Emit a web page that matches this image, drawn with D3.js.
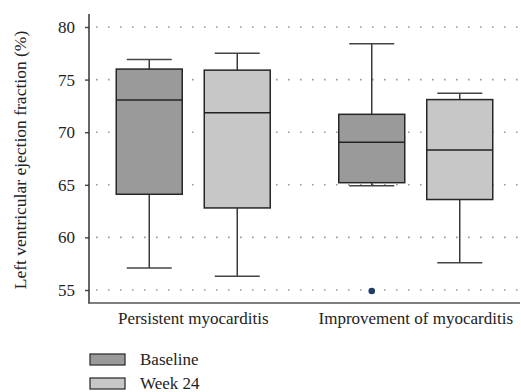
<!DOCTYPE html>
<html>
<head>
<meta charset="utf-8">
<script src="https://cdn.jsdelivr.net/npm/d3@7"></script>
<style>
  body { margin: 0; background: #fff; }
  svg text { font-family: "Liberation Serif", "DejaVu Serif", serif; }
</style>
</head>
<body>
<div id="chart"></div>
<script>
// data
const groups = ["Persistent myocarditis", "Improvement of myocarditis"];
const series = ["Baseline", "Week 24"];
const yTicks = [55, 60, 65, 70, 75, 80];

// [whisker low, q1, median, q3, whisker high] per group, one array per series
const baselineStats = [
    [57.1, 64.1, 73.05, 76.0, 76.9],
    [64.9, 65.2, 69.05, 71.7, 78.4]
];
const week24Stats = [
    [56.3, 62.8, 71.85, 75.9, 77.5],
    [57.6, 63.6, 68.3, 73.1, 73.7]
];
const outliers = [
    {group: 1, series: 0, value: 54.9}
];

const FILLS = ["#9a9a9a", "#c6c7c6"];
const W = 521, H = 392;

const svg = d3.select("#chart").append("svg")
    .attr("width", W)
    .attr("height", H);

const y = d3.scaleLinear().domain([55, 80]).range([290, 27]);

const x = d3.scaleBand().domain(groups).range([82, 527]).paddingOuter(0);
const xs = d3.scaleBand().domain(series).range([-88, 88]).paddingInner(0.5).paddingOuter(0.25);

const BOX_W = 66;
const CAP_W = 45;

// grid
svg.append("g")
    .selectAll("line")
    .data(yTicks)
    .enter().append("line")
    .attr("x1", 90).attr("x2", 520)
    .attr("y1", d => y(d)).attr("y2", d => y(d))
    .attr("stroke", "#9a9a9a")
    .attr("stroke-width", 1.6)
    .attr("stroke-dasharray", "1.6,10.4")
    .attr("stroke-dashoffset", -6);

// y axis
const yAxis = svg.append("g")
    .attr("transform", "translate(89,0)")
    .call(d3.axisLeft(y).tickValues(yTicks).tickSize(4).tickPadding(10))
    .attr("font-size", 17);
yAxis.select(".domain").remove();
yAxis.selectAll(".tick line").attr("stroke", "#444").attr("stroke-width", 1.4);
yAxis.selectAll(".tick text").attr("fill", "#222");

svg.append("line")
    .attr("x1", 89).attr("x2", 89)
    .attr("y1", 14).attr("y2", 303.5)
    .attr("stroke", "#333").attr("stroke-width", 1.5);

// x axis
svg.append("line")
    .attr("x1", 88.3).attr("x2", 520)
    .attr("y1", 303).attr("y2", 303)
    .attr("stroke", "#555").attr("stroke-width", 1.5);

const xAxis = svg.append("g")
    .attr("transform", "translate(0,303)")
    .call(d3.axisBottom(x).tickSize(0).tickPadding(9))
    .attr("font-size", 17);
xAxis.select(".domain").remove();
xAxis.selectAll(".tick text").attr("fill", "#222");

svg.append("text")
    .attr("transform", "translate(26,160) rotate(-90)")
    .attr("text-anchor", "middle")
    .attr("font-size", 17.5)
    .attr("fill", "#222")
    .text("Left ventricular ejection fraction (%)");

// boxes
const allStats = [baselineStats, week24Stats];
const boxes = [];
allStats.forEach((stats, si) => {
    stats.forEach((s, gi) => {
        boxes.push({g: groups[gi], s: series[si], si: si, v: s});
    });
});

const cx = d => x(d.g) + x.bandwidth() / 2 + xs(d.s) + xs.bandwidth() / 2;

const bg = svg.append("g").selectAll("g")
    .data(boxes)
    .enter().append("g");

// whiskers
bg.append("line")
    .attr("x1", cx).attr("x2", cx)
    .attr("y1", d => y(d.v[4])).attr("y2", d => y(d.v[3]))
    .attr("stroke", "#3a3a3a").attr("stroke-width", 1.5);
bg.append("line")
    .attr("x1", cx).attr("x2", cx)
    .attr("y1", d => y(d.v[1])).attr("y2", d => y(d.v[0]))
    .attr("stroke", "#3a3a3a").attr("stroke-width", 1.5);
[0, 4].forEach(k => {
    bg.append("line")
        .attr("x1", d => cx(d) - CAP_W / 2).attr("x2", d => cx(d) + CAP_W / 2)
        .attr("y1", d => y(d.v[k])).attr("y2", d => y(d.v[k]))
        .attr("stroke", "#444").attr("stroke-width", 1.5);
});

bg.append("rect")
    .attr("x", d => cx(d) - BOX_W / 2)
    .attr("width", BOX_W)
    .attr("y", d => y(d.v[3]))
    .attr("height", d => y(d.v[1]) - y(d.v[3]))
    .attr("fill", d => FILLS[d.si])
    .attr("stroke", "#262626")
    .attr("stroke-width", 1.5);

bg.append("line")
    .attr("x1", d => cx(d) - BOX_W / 2).attr("x2", d => cx(d) + BOX_W / 2)
    .attr("y1", d => y(d.v[2])).attr("y2", d => y(d.v[2]))
    .attr("stroke", "#222").attr("stroke-width", 1.5);

// outliers
svg.append("g").selectAll("circle")
    .data(outliers)
    .enter().append("circle")
    .attr("cx", d => cx({g: groups[d.group], s: series[d.series]}))
    .attr("cy", d => y(d.value))
    .attr("r", 3.3)
    .attr("fill", "#1f3d6b");

// legend
const lg = svg.append("g").selectAll("g")
    .data(series)
    .enter().append("g")
    .attr("transform", (d, i) => `translate(90,${354 + i * 24})`);
lg.append("rect")
    .attr("width", 35).attr("height", 11)
    .attr("fill", (d, i) => FILLS[i])
    .attr("stroke", "#333").attr("stroke-width", 1.3);
lg.append("text")
    .attr("x", 50).attr("y", 10.5)
    .attr("font-size", 17)
    .attr("fill", "#222")
    .text(d => d);
</script>
</body>
</html>
